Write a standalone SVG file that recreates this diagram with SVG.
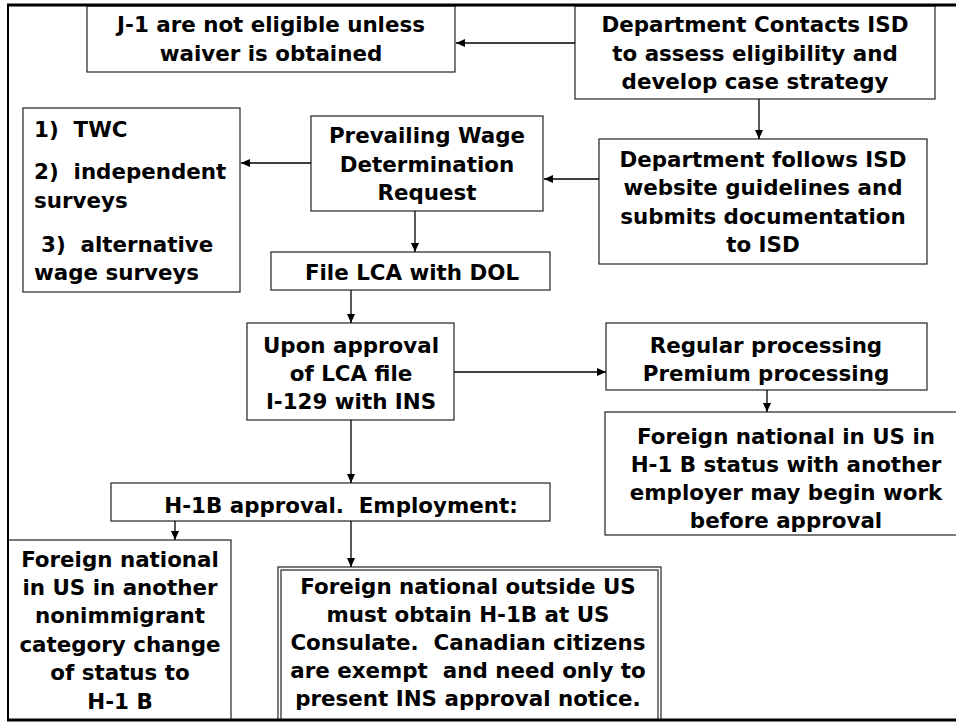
<svg xmlns="http://www.w3.org/2000/svg" width="956" height="723" viewBox="0 0 956 723">
<style>
.box{fill:#fff;stroke:#222;stroke-width:1.2}
.t{font-family:"DejaVu Sans",Verdana,sans-serif;font-weight:bold;font-size:21.4px;fill:#000;text-anchor:middle}
.l{text-anchor:start}
.c{stroke:#000;stroke-width:1.3;fill:none;marker-end:url(#ah)}
.frame{stroke:#000;fill:none}
</style>
<defs>
<marker id="ah" markerUnits="userSpaceOnUse" markerWidth="10" markerHeight="10" refX="9" refY="4" orient="auto">
<path d="M0,0 L9,4 L0,8 z" fill="#000"/>
</marker>
</defs>
<rect width="956" height="723" fill="#fff"/>
<g id="n1"><rect class="box" x="87" y="6" width="368" height="66"/>
<text class="t" x="271" y="32">J-1 are not eligible unless</text>
<text class="t" x="271" y="61">waiver is obtained</text></g>
<g id="n2"><rect class="box" x="575" y="6" width="360" height="93"/>
<text class="t" x="755" y="32">Department Contacts ISD</text>
<text class="t" x="755" y="61">to assess eligibility and</text>
<text class="t" x="755" y="89">develop case strategy</text></g>
<g id="n3"><rect class="box" x="599" y="139" width="328" height="125"/>
<text class="t" x="763" y="167">Department follows ISD</text>
<text class="t" x="763" y="195">website guidelines and</text>
<text class="t" x="763" y="224">submits documentation</text>
<text class="t" x="763" y="252">to ISD</text></g>
<g id="n4"><rect class="box" x="311" y="116" width="232" height="95"/>
<text class="t" x="427" y="143">Prevailing Wage</text>
<text class="t" x="427" y="172">Determination</text>
<text class="t" x="427" y="200">Request</text></g>
<g id="n5"><rect class="box" x="23" y="108" width="217" height="184"/>
<text class="t l" x="34" y="137" xml:space="preserve">1)  TWC</text>
<text class="t l" x="34" y="179" xml:space="preserve">2)  independent</text>
<text class="t l" x="34" y="208">surveys</text>
<text class="t l" x="41" y="252" xml:space="preserve">3)  alternative</text>
<text class="t l" x="34" y="280">wage surveys</text></g>
<g id="n6"><rect class="box" x="271" y="252" width="279" height="38"/>
<text class="t" x="412" y="280">File LCA with DOL</text></g>
<g id="n7"><rect class="box" x="247" y="323" width="207" height="97"/>
<text class="t" x="351" y="353">Upon approval</text>
<text class="t" x="351" y="381">of LCA file</text>
<text class="t" x="351" y="409">I-129 with INS</text></g>
<g id="n8"><rect class="box" x="606" y="323" width="321" height="67"/>
<text class="t" x="766" y="353">Regular processing</text>
<text class="t" x="766" y="381">Premium processing</text></g>
<g id="n9"><rect class="box" x="605" y="412" width="360" height="123"/>
<text class="t" x="786" y="444">Foreign national in US in</text>
<text class="t" x="786" y="472">H-1 B status with another</text>
<text class="t" x="786" y="500">employer may begin work</text>
<text class="t" x="786" y="528">before approval</text></g>
<g id="n10"><rect class="box" x="111" y="483" width="439" height="38"/>
<text class="t" x="341" y="513" xml:space="preserve">H-1B approval.  Employment:</text></g>
<g id="n11"><rect class="box" x="8" y="540" width="223" height="180"/>
<text class="t" x="120" y="567">Foreign national</text>
<text class="t" x="120" y="595">in US in another</text>
<text class="t" x="120" y="623">nonimmigrant</text>
<text class="t" x="120" y="652">category change</text>
<text class="t" x="120" y="680">of status to</text>
<text class="t" x="120" y="709">H-1 B</text></g>
<g id="n12"><rect class="box" x="278" y="567" width="383" height="153"/>
<rect class="box" x="281" y="570" width="377" height="150"/>
<text class="t" x="468" y="594">Foreign national outside US</text>
<text class="t" x="468" y="622">must obtain H-1B at US</text>
<text class="t" x="468" y="650" xml:space="preserve">Consulate.  Canadian citizens</text>
<text class="t" x="468" y="678" xml:space="preserve">are exempt  and need only to</text>
<text class="t" x="468" y="706">present INS approval notice.</text></g>
<g id="frame">
<line class="frame" x1="7" y1="5" x2="956" y2="5" stroke-width="3"/>
<line class="frame" x1="8" y1="4" x2="8" y2="721" stroke-width="2"/>
<line class="frame" x1="7" y1="720" x2="956" y2="720" stroke-width="3"/>
</g>
<g id="connectors">
<line class="c" x1="575" y1="43" x2="456" y2="43"/>
<line class="c" x1="759" y1="99" x2="759" y2="139"/>
<line class="c" x1="599" y1="179" x2="544" y2="179"/>
<line class="c" x1="311" y1="163" x2="241" y2="163"/>
<line class="c" x1="415" y1="211" x2="415" y2="252"/>
<line class="c" x1="351" y1="290" x2="351" y2="323"/>
<line class="c" x1="454" y1="372" x2="606" y2="372"/>
<line class="c" x1="767" y1="390" x2="767" y2="412"/>
<line class="c" x1="351" y1="420" x2="351" y2="483"/>
<line class="c" x1="175" y1="521" x2="175" y2="540"/>
<line class="c" x1="351" y1="521" x2="351" y2="567"/>
</g>
</svg>
